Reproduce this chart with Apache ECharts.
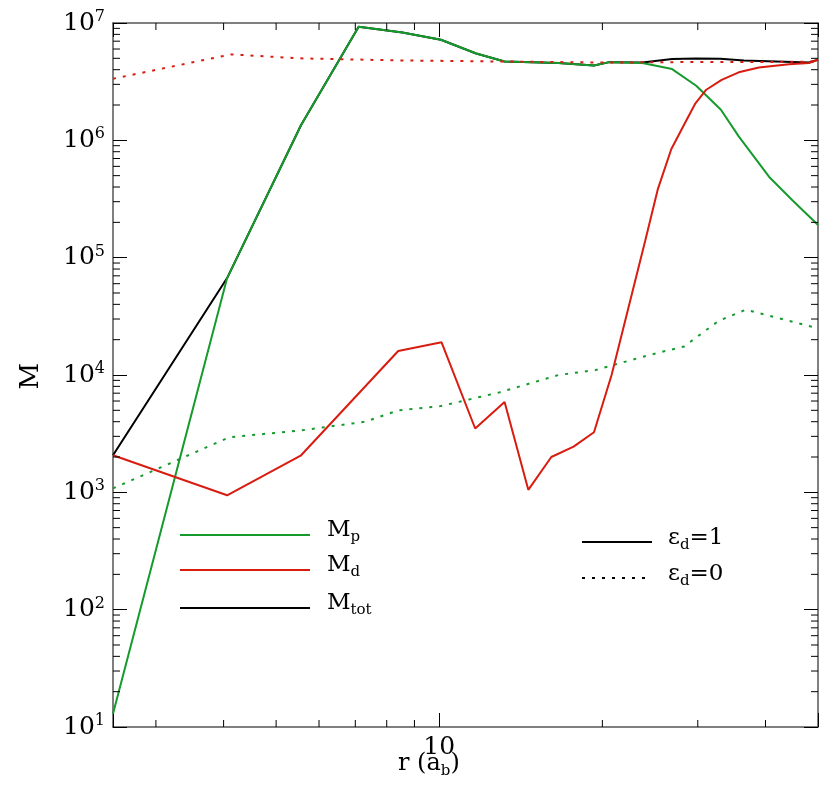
<!DOCTYPE html>
<html><head><meta charset="utf-8">
<script src="https://cdn.jsdelivr.net/npm/echarts@6/dist/echarts.min.js"></script>
<style>html,body{margin:0;padding:0;background:#fff}#c{width:830px;height:801px}</style>
</head><body><div id="c"></div>
<script>
const X_MIN = 2.5, X_MAX = 50, Y_MIN = 10, Y_MAX = 1e7;
const mpSolid = [[2.5,13],[4.06,6.7e4],[5.56,1.35e6],[7.1,9.3e6],[8.55,8.3e6],[10.07,7.2e6],[11.7,5.5e6],[13.2,4.7e6],[16.6,4.56e6],[19.3,4.35e6],[20.6,4.64e6],[23.7,4.56e6],[26.9,4.05e6],[29.8,2.92e6],[33.1,1.82e6],[35.7,1.08e6],[40.6,4.9e5],[44.8,3.1e5],[50,1.9e5]];
const mdSolid = [[2.5,2070],[4.06,944],[5.56,2070],[8.4,1.6e4],[10.1,1.9e4],[11.65,3500],[13.2,5900],[14.6,1050],[16.1,2000],[17.7,2450],[19.3,3250],[20.8,1e4],[24.0,1.4e5],[25.3,3.8e5],[26.8,8.4e5],[28.3,1.36e6],[29.7,2.07e6],[31.1,2.7e6],[33.2,3.28e6],[35.7,3.8e6],[38.9,4.17e6],[44.2,4.45e6],[48.1,4.56e6],[50,4.86e6]];
const mtotSolid = [[2.5,2070],[4.06,6.7e4],[5.56,1.35e6],[7.1,9.3e6],[8.55,8.3e6],[10.07,7.2e6],[11.7,5.5e6],[13.2,4.7e6],[16.6,4.56e6],[19.3,4.35e6],[20.6,4.64e6],[23.7,4.6e6],[26.9,4.93e6],[29.8,4.99e6],[33.0,4.95e6],[36.5,4.8e6],[48.1,4.6e6],[50,4.86e6]];
const mpDotted = [[2.5,1080],[4.1,2950],[5.5,3350],[7.3,4000],[8.4,5000],[10,5400],[12.9,7100],[16.6,1e4],[19.4,1.1e4],[24.4,1.48e4],[28.3,1.75e4],[32.8,2.9e4],[36.8,3.6e4],[40.6,3.2e4],[50,2.5e4]];
const mdDotted = [[2.5,3.35e6],[4.13,5.4e6],[5.5,5.0e6],[8.4,4.8e6],[12.9,4.7e6],[20,4.6e6],[30,4.65e6],[40,4.65e6],[50,4.7e6]];
const xMinorTicks = [3,4,5,6,7,8,9,20,30,40];
const yMinorTicks = [];
for (let e=1;e<7;e++) for (let k=2;k<=9;k++) yMinorTicks.push(k*Math.pow(10,e));
const legendItems = [['M','p','#159a2c'],['M','d','#d81c10'],['M','tot','#000']];

const GREEN='#159a2c', RED='#d81c10';
const F='DejaVu Serif';
const chart = echarts.init(document.getElementById('c'));
function tickSeries(vals, dir, len){
  return {type:'custom', silent:true, z:5, data: vals.map(v=>[v]),
    renderItem:function(p,api){
      const v=api.value(0); const ch=[];
      if(dir==='x'){
        const a=api.coord([v,Y_MIN]), b=api.coord([v,Y_MAX]);
        ch.push({type:'line',shape:{x1:a[0],y1:a[1],x2:a[0],y2:a[1]-len},style:{stroke:'#000',lineWidth:1}});
        ch.push({type:'line',shape:{x1:b[0],y1:b[1],x2:b[0],y2:b[1]+len},style:{stroke:'#000',lineWidth:1}});
      } else {
        const a=api.coord([X_MIN,v]), b=api.coord([X_MAX,v]);
        ch.push({type:'line',shape:{x1:a[0],y1:a[1],x2:a[0]+len,y2:a[1]},style:{stroke:'#000',lineWidth:1}});
        ch.push({type:'line',shape:{x1:b[0],y1:b[1],x2:b[0]-len,y2:b[1]},style:{stroke:'#000',lineWidth:1}});
      }
      return {type:'group',children:ch};
    }};
}
const sup = {fontFamily:F,fontSize:16,verticalAlign:'top',padding:[0,0,12,0],color:'#000'};
function line(data,color,dotted,z){return {type:'line',data:data,showSymbol:false,symbol:'none',z:z||2,
  lineStyle:{color:color,width:2,type:dotted?[3,7]:'solid'},animation:false};}
const legendG=[];
legendItems.forEach((it,i)=>{
  const y=[535,570,608][i];
  legendG.push({type:'line',shape:{x1:180,y1:y,x2:310,y2:y},style:{stroke:it[2],lineWidth:2}});
  legendG.push({type:'text',left:327,top:y-16,style:{text:'{a|'+it[0]+'}{s|'+it[1]+'}',rich:{a:{fontFamily:F,fontSize:23,color:'#000'},s:{fontFamily:F,fontSize:15,color:'#000',padding:[14,0,0,0]}}}});
});
[['1',542,'solid'],['0',578,[3,7]]].forEach(r=>{
  legendG.push({type:'line',shape:{x1:582,y1:r[1],x2:652,y2:r[1]},style:{stroke:'#000',lineWidth:2,lineDash:r[2]==='solid'?null:r[2]}});
  legendG.push({type:'text',left:668,top:r[1]-15,style:{text:'{a|ε}{s|d}{a|='+r[0]+'}',rich:{a:{fontFamily:F,fontSize:23,color:'#000'},s:{fontFamily:F,fontSize:15,color:'#000',padding:[14,0,0,0]}}}});
});
legendG.push({type:'text',left:18,top:363,rotation:Math.PI/2,style:{text:'M',fontFamily:F,fontSize:26,fill:'#000',align:'center',verticalAlign:'middle'}});
legendG.push({type:'text',left:398,top:752,style:{text:'{a|r (a}{s|b}{a|)}',rich:{a:{fontFamily:F,fontSize:24,color:'#000'},s:{fontFamily:F,fontSize:15,color:'#000',padding:[14,0,0,0]}}}});
const xCommon={type:'log',logBase:10,min:X_MIN,max:X_MAX,splitLine:{show:false},
  axisLine:{lineStyle:{color:'#555',width:1.5}},axisTick:{inside:true,length:14,lineStyle:{color:'#000'}},minorTick:{show:false}};
const yCommon={type:'log',logBase:10,min:Y_MIN,max:Y_MAX,splitLine:{show:false},
  axisLine:{lineStyle:{color:'#555',width:1.5}},axisTick:{inside:true,length:14,lineStyle:{color:'#000'}},minorTick:{show:false}};
chart.setOption({
  animation:false,
  grid:{left:113,right:12,top:23,bottom:74},
  xAxis:[Object.assign({},xCommon,{position:'bottom',axisLabel:{fontFamily:F,fontSize:25,color:'#000',margin:8,
      formatter:v=>Math.abs(v-10)<1e-6?'10':''}}),
    Object.assign({},xCommon,{position:'top',axisLabel:{show:false}})],
  yAxis:[Object.assign({},yCommon,{position:'left',axisLabel:{fontFamily:F,fontSize:25,color:'#000',margin:8,
      formatter:v=>{const e=Math.round(Math.log10(v));return '{b|10}{s|'+e+'}';},rich:{b:{fontFamily:F,fontSize:25,color:'#000'},s:sup}}}),
    Object.assign({},yCommon,{position:'right',axisLabel:{show:false}})],
  graphic:legendG,
  series:[
    tickSeries(xMinorTicks,'x',7),
    tickSeries(yMinorTicks,'y',7),
    line(mpDotted,GREEN,true),
    line(mtotSolid,'#000',false,2),
    line(mpSolid,GREEN,false,3),
    line(mdSolid,RED,false,3),
    line(mdDotted,RED,true,4)
  ]
});
</script></body></html>
